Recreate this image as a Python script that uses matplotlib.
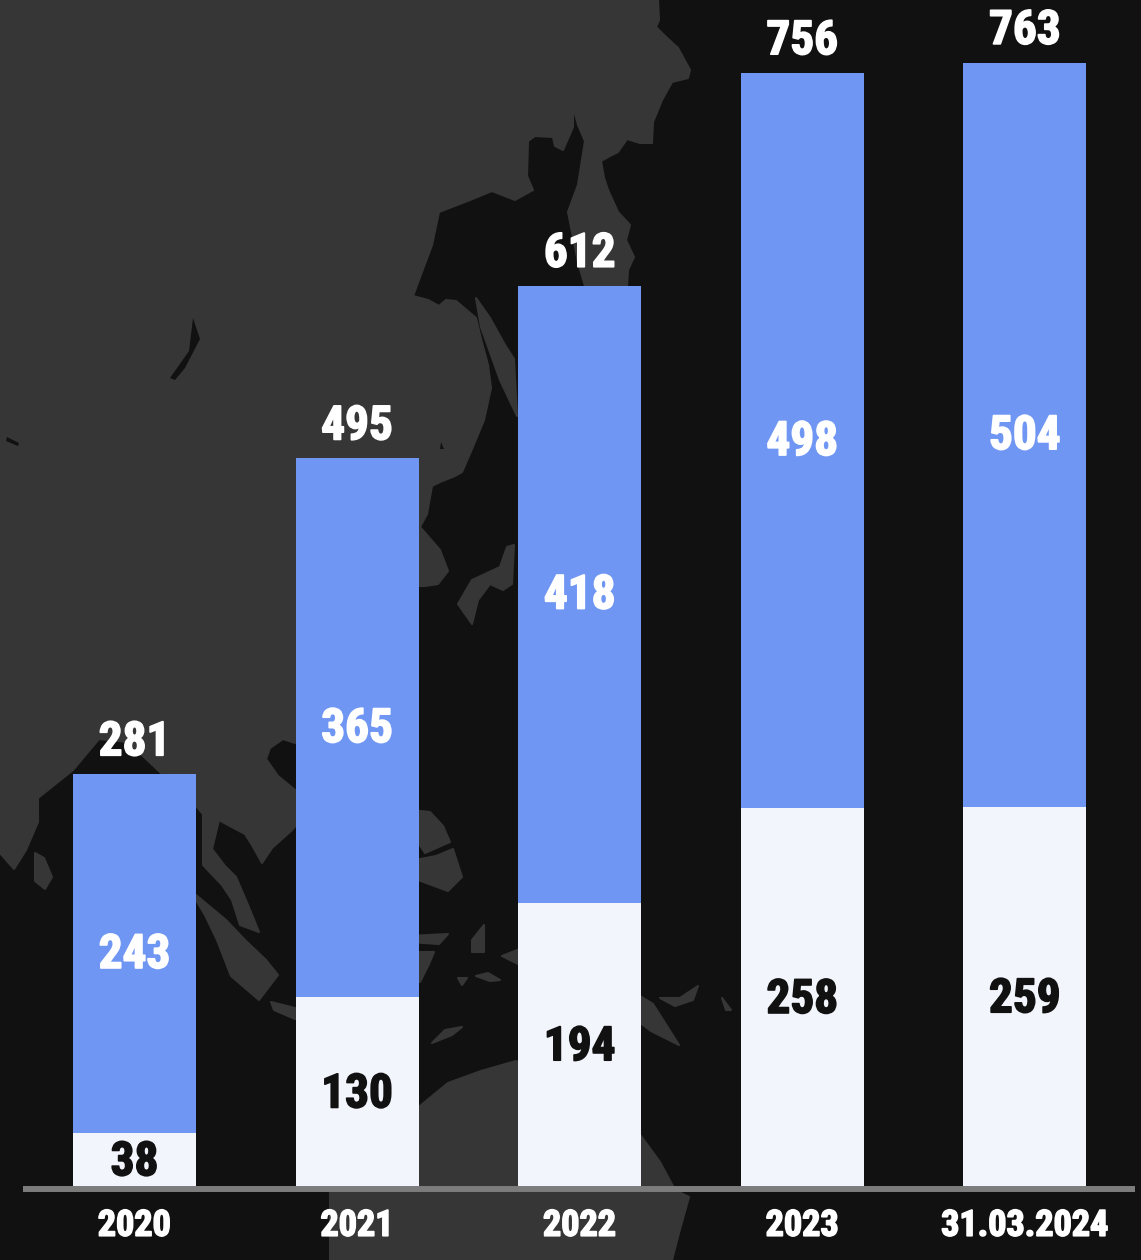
import matplotlib
matplotlib.use("Agg")
import matplotlib.pyplot as plt
import matplotlib.patheffects as pe

categories = ["2020", "2021", "2022", "2023", "31.03.2024"]
lower = [38, 130, 194, 258, 259]
upper = [243, 365, 418, 498, 504]
totals = [281, 495, 612, 756, 763]

BG = "#111111"
LAND = "#363636"
BLUE = "#7096F4"
LIGHT = "#F2F5FB"
AXIS = "#7C7C7C"

plt.rcParams["font.family"] = ["Roboto Condensed", "Roboto", "DejaVu Sans"]
plt.rcParams["font.weight"] = "bold"

# background map, traced roughly in picture pixels
mainland = [(0, 0), (658, 0), (659, 20), (656, 27), (665, 36), (678, 48), (690, 70), (688, 78), (672, 82),
            (662, 100), (653, 122), (652, 143), (640, 143), (627, 139), (618, 152), (610, 156), (601, 161),
            (604, 178), (608, 190), (618, 212), (630, 225), (626, 240), (634, 257), (628, 270), (627, 286),
            (610, 320), (585, 286), (578, 262), (568, 212), (578, 185), (585, 141), (578, 125), (573, 106),
            (573, 127), (563, 150), (555, 146), (553, 137), (535, 136), (528, 141), (527, 176), (533, 190),
            (515, 200), (492, 191), (470, 200), (439, 212), (432, 245), (413, 296), (428, 300), (439, 306),
            (446, 300), (456, 301), (476, 318), (481, 339), (488, 365), (491, 388), (484, 420), (472, 449),
            (462, 472), (455, 476), (440, 482), (432, 486), (427, 514), (420, 527), (330, 720), (295, 743),
            (283, 739), (270, 748), (266, 759), (278, 776), (295, 790), (310, 810), (292, 830),
            (272, 848), (262, 863), (252, 845), (245, 834), (228, 825), (219, 820), (212, 849), (225, 866),
            (236, 877), (248, 905), (259, 932), (240, 925), (232, 900), (222, 885), (203, 865), (203, 814),
            (196, 806), (160, 772), (128, 742), (99, 739), (73, 770), (38, 798), (38, 822), (26, 850),
            (14, 869), (0, 853)]
islands = [
    [(476, 298), (490, 318), (505, 345), (514, 359), (517, 416), (500, 380), (481, 327)],
    [(420, 527), (440, 550), (448, 571), (438, 584), (425, 586), (415, 586)],
    [(514, 545), (512, 584), (503, 590), (490, 584), (478, 600), (472, 624), (458, 604), (472, 580),
     (500, 567), (507, 547)],
    [(35, 853), (44, 858), (52, 877), (45, 889), (35, 881)],
    [(190, 890), (205, 915), (217, 940), (231, 976), (259, 1000), (278, 975), (266, 960), (245, 940), (226, 920)],
    [(271, 1002), (295, 1008), (330, 1020), (295, 1019), (274, 1010)],
    [(410, 861), (436, 856), (453, 849), (462, 877), (448, 891), (410, 877)],
    [(410, 810), (430, 812), (443, 826), (450, 842), (425, 853), (410, 830)],
    [(472, 940), (484, 925), (484, 952), (472, 952)],
    [(410, 936), (448, 934), (439, 944), (410, 942)],
    [(410, 952), (434, 952), (429, 964), (420, 982), (410, 982)],
    [(476, 976), (488, 973), (500, 980), (490, 981)],
    [(458, 978), (467, 978), (462, 985)],
    [(432, 1043), (445, 1030), (462, 1027), (452, 1035)],
    [(530, 945), (502, 956), (530, 970)],
    [(630, 990), (653, 1004), (679, 1045), (651, 1031), (630, 1015)],
    [(660, 998), (680, 998), (698, 986), (693, 1000), (675, 1006)],
    [(722, 998), (731, 1010), (726, 1010)],
    [(330, 1193), (420, 1106), (448, 1083), (481, 1071), (516, 1061), (600, 1100), (641, 1136),
     (660, 1162), (675, 1190), (689, 1197), (679, 1233), (672, 1260), (330, 1260)],
]
lakes = [[(193, 318), (200, 339), (185, 368), (175, 380), (170, 378), (189, 351)],
         [(7, 437), (19, 443), (18, 446), (6, 441)],
         [(441, 442), (444, 449), (440, 449)]]

fig = plt.figure(figsize=(11.41, 12.6), dpi=100, facecolor=BG)

bg = fig.add_axes([0, 0, 1, 1])
bg.set_xlim(0, 1141)
bg.set_ylim(1260, 0)
bg.axis("off")
for shape in [mainland] + islands:
    bg.fill(*zip(*shape), facecolor=LAND, edgecolor=LAND, lw=1.5, joinstyle="round")
for shape in lakes:
    bg.fill(*zip(*shape), color=BG, lw=0)

# bottom of this axes is the zero line at pixel 1189
ax = fig.add_axes([0, 71 / 1260, 1, 1189 / 1260])
ax.patch.set_alpha(0)
x = list(range(len(categories)))
ax.bar(x, lower, width=0.5526, color=LIGHT)
ax.bar(x, upper, width=0.5526, bottom=lower, color=BLUE)
ax.set_xlim(-134.5 / 222.6, (1141 - 134.5) / 222.6)
ax.set_ylim(0, 1189 / 1.476)

for s in ax.spines.values():
    s.set_visible(False)
ax.set_yticks([])
ax.set_xticks(x, categories)
ax.tick_params(axis="x", length=0, pad=13.5, labelsize=26, labelcolor="white")
ax.axhline(0, xmin=23 / 1141, xmax=1135 / 1141, color=AXIS, lw=4.3, clip_on=False,
           solid_capstyle="butt")

heavy = lambda c: [pe.withStroke(linewidth=1.2, foreground=c)]
for lab in ax.get_xticklabels():
    lab.set_path_effects(heavy("white"))

for i in x:
    ax.annotate(str(lower[i]), (i, lower[i] / 2), xytext=(0, -1), textcoords="offset points",
                ha="center", va="center", fontsize=34, color=BG, path_effects=heavy(BG))
    ax.annotate(str(upper[i]), (i, lower[i] + upper[i] / 2), xytext=(0, -1), textcoords="offset points",
                ha="center", va="center", fontsize=34, color="white", path_effects=heavy("white"))
    ax.annotate(str(totals[i]), (i, totals[i]), xytext=(0, 23), textcoords="offset points",
                ha="center", va="center", fontsize=34, color="white", path_effects=heavy("white"))

fig.savefig("out.png", dpi=100, facecolor=BG)
